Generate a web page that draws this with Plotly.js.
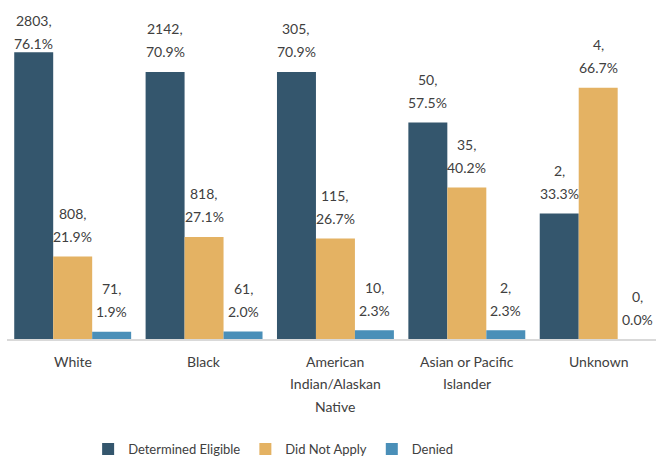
<!DOCTYPE html>
<html>
<head>
<meta charset="utf-8">
<script src="https://cdn.plot.ly/plotly-3.0.1.min.js"></script>
<style>
  html, body { margin: 0; padding: 0; background: #fff; overflow: hidden; }
  #chart { width: 656px; height: 459px; }
</style>
</head>
<body>
<div id="chart"></div>
<script>
// categories and series
const categories = ["White", "Black", "American<br>Indian/Alaskan<br>Native", "Asian or Pacific<br>Islander", "Unknown"];
const seriesNames = ["Determined Eligible", "Did Not Apply", "Denied"];
const eligibleCount = [2803, 2142, 305, 50, 2];
const eligiblePct = [76.1, 70.9, 70.9, 57.5, 33.3];
const notAppliedCount = [808, 818, 115, 35, 4];
const notAppliedPct = [21.9, 27.1, 26.7, 40.2, 66.7];
const deniedCount = [71, 61, 10, 2, 0];
const deniedPct = [1.9, 2.0, 2.3, 2.3, 0.0];

const colors = ["#34566d", "#e4b263", "#4a8fb8"];
const textColor = "#404040";
const fontFamily = "Lato, 'Noto Sans', sans-serif";
const barGap = 0.11;
const yMax = 90;
const marginB = 120;
const plotH = 459 - marginB;

const counts = [eligibleCount, notAppliedCount, deniedCount];
const pcts = [eligiblePct, notAppliedPct, deniedPct];
const xIdx = categories.map((c, i) => i);

const traces = seriesNames.map((name, j) => ({
  type: "bar",
  x: xIdx,
  y: pcts[j],
  name: name,
  marker: { color: colors[j] },
  hoverinfo: "none"
}));

// two-line value labels: count on top, percent below (wider spacing than plotly's line height)
// labels near the top get squeezed down like in the original
const annotations = [];
const barW = (1 - barGap) / seriesNames.length;
const lineGap = 23;
seriesNames.forEach((name, j) => {
  xIdx.forEach(i => {
    const x = i + (j - 1) * barW;
    const y = pcts[j][i];
    const headroom = (yMax - y) * plotH / yMax;
    const s = Math.min(20, headroom - lineGap - 20);
    annotations.push({
      x: x, y: y, xref: "x", yref: "y",
      text: pcts[j][i].toFixed(1) + "%",
      showarrow: false, yanchor: "middle", yshift: s,
      font: { family: fontFamily, size: 14, color: textColor }
    });
    annotations.push({
      x: x, y: y, xref: "x", yref: "y",
      text: counts[j][i] + ",",
      showarrow: false, yanchor: "middle", yshift: s + lineGap,
      font: { family: fontFamily, size: 14, color: textColor }
    });
  });
});

// category labels, one annotation per line for the wider line spacing
categories.forEach((c, i) => {
  c.split("<br>").forEach((line, k) => {
    annotations.push({
      x: i, y: 0, xref: "x", yref: "y",
      text: line,
      showarrow: false, yanchor: "middle", yshift: -22 - k * 22.5,
      font: { family: fontFamily, size: 14, color: textColor }
    });
  });
});

const layout = {
  width: 656,
  height: 459,
  margin: { t: 0, r: 0, b: marginB, l: 7, autoexpand: false },
  paper_bgcolor: "#ffffff",
  plot_bgcolor: "#ffffff",
  barmode: "group",
  bargap: barGap,
  bargroupgap: 0,
  font: { family: fontFamily, size: 14, color: textColor },
  xaxis: {
    range: [-0.5, 4.44],
    tickvals: xIdx,
    showticklabels: false,
    showgrid: false,
    zeroline: false,
    showline: true,
    linecolor: "#d9d9d9",
    linewidth: 2,
    ticks: ""
  },
  yaxis: {
    range: [0, yMax],
    visible: false,
    showgrid: false,
    zeroline: false
  },
  showlegend: true,
  legend: {
    orientation: "h",
    xref: "paper", x: 0.125, xanchor: "left",
    yref: "container", y: 10 / 459, yanchor: "middle",
    font: { family: fontFamily, size: 13, color: textColor },
    traceorder: "normal"
  },
  annotations: annotations
};

Plotly.newPlot("chart", traces, layout, { displayModeBar: false, staticPlot: true });
</script>
</body>
</html>
